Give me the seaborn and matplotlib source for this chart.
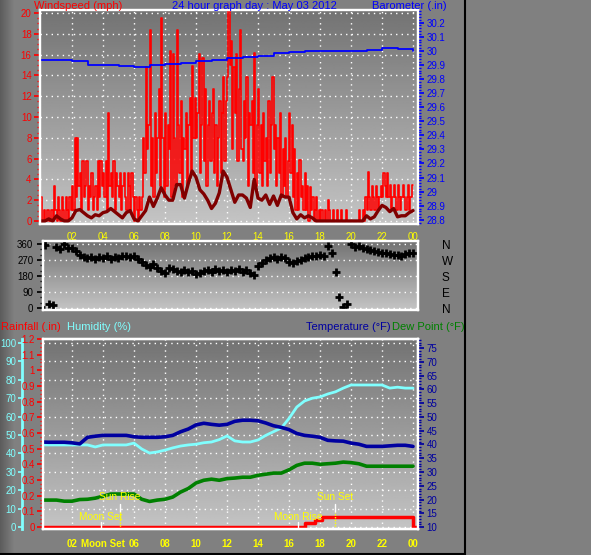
import numpy as np
import pandas as pd
import matplotlib
matplotlib.use("Agg")
import matplotlib.pyplot as plt
import matplotlib.transforms as mtransforms
from matplotlib.lines import Line2D
from matplotlib.ticker import MultipleLocator, FuncFormatter
import seaborn as sns

# wind gust (mph), a reading every 5 minutes from 00:00
gust_mph = [
    2.3, 0.0, 1.1, 0.0, 0.0, 1.1, 0.0, 0.0, 1.1, 0.0, 3.4, 1.1,
    0.0, 2.3, 1.1, 0.0, 2.3, 1.1, 0.0, 2.3, 1.1, 0.0, 2.3, 1.1,
    3.4, 1.1, 8.0, 2.3, 8.0, 3.4, 4.6, 1.1, 5.8, 2.3, 3.4, 5.8,
    1.1, 3.4, 2.3, 4.6, 1.1, 2.3, 3.4, 1.1, 5.8, 2.3, 5.8, 3.4,
    4.6, 2.3, 5.8, 1.1, 10.4, 3.4, 4.6, 2.3, 5.8, 1.1, 4.6, 3.4,
    2.3, 4.6, 1.1, 3.4, 4.6, 2.3, 1.1, 4.6, 3.4, 1.1, 4.6, 2.3,
    0.0, 2.3, 1.1, 0.0, 2.3, 1.1, 2.3, 8.0, 4.6, 14.8, 6.9, 9.2,
    18.4, 3.4, 8.0, 2.3, 10.4, 4.6, 8.0, 12.7, 3.4, 19.5, 8.0, 2.3,
    10.4, 3.4, 9.2, 6.9, 16.3, 2.3, 16.1, 8.0, 3.4, 18.4, 9.2, 4.6,
    11.5, 2.3, 8.0, 6.9, 10.4, 3.4, 9.2, 11.8, 4.6, 14.9, 8.0, 11.8,
    8.0, 10.4, 16.1, 4.6, 9.2, 15.7, 5.8, 12.7, 3.4, 9.2, 11.5, 5.8,
    10.4, 12.7, 4.6, 9.2, 3.4, 8.0, 11.5, 4.6, 10.4, 13.8, 5.8, 11.5,
    13.8, 20.3, 15.0, 17.3, 6.9, 14.8, 10.4, 16.1, 5.8, 12.7, 18.4, 6.9,
    5.8, 11.5, 8.0, 13.8, 3.4, 10.4, 9.2, 11.5, 4.6, 16.2, 3.4, 9.2,
    12.7, 4.6, 9.2, 3.4, 10.4, 5.8, 8.0, 3.4, 11.5, 4.6, 9.2, 13.8,
    6.9, 9.2, 3.4, 8.0, 4.6, 10.4, 2.3, 6.9, 3.4, 8.0, 2.3, 5.8,
    10.4, 4.6, 9.2, 2.3, 6.9, 1.1, 4.6, 1.1, 5.9, 2.3, 3.4, 1.1,
    4.6, 1.1, 3.4, 0.0, 3.3, 1.1, 2.3, 0.0, 1.1, 2.3, 0.0, 1.1,
    0.0, 1.1, 0.0, 0.0, 1.1, 0.0, 2.0, 1.1, 0.0, 0.0, 1.1, 0.0,
    0.0, 1.1, 0.0, 0.0, 1.1, 0.0, 0.0, 0.0, 1.1, 0.0, 0.0, 0.0,
    0.0, 0.0, 0.0, 0.0, 0.0, 0.0, 1.1, 0.0, 0.0, 1.1, 0.0, 2.3,
    1.1, 4.7, 2.3, 1.1, 3.4, 2.3, 1.1, 3.4, 2.3, 1.1, 2.3, 3.4,
    2.3, 4.6, 3.4, 2.3, 4.6, 2.3, 3.5, 1.1, 2.3, 3.5, 2.3, 1.1,
    3.5, 2.3, 1.1, 2.3, 3.5, 2.3, 1.1, 2.3, 3.5, 1.1, 2.3, 3.5,
    3.5,
]
# average wind speed (mph), every 15 minutes
avg_mph = [
    0.0, 0.0, 0.2, 0.0, 0.5, 0.2, 0.0, 0.0, 0.3, 1.0, 1.1, 0.8,
    0.5, 0.3, 0.6, 0.5, 0.8, 0.9, 1.2, 0.9, 0.6, 0.3, 0.8, 1.0,
    0.2, 0.0, 0.5, 1.0, 2.3, 1.4, 2.2, 3.2, 2.5, 2.0, 2.0, 3.5,
    3.5, 2.2, 3.6, 4.8, 4.2, 3.0, 2.6, 2.0, 1.2, 1.7, 2.7, 4.8,
    4.2, 3.0, 1.8, 2.5, 2.5, 2.2, 1.3, 4.0, 2.2, 2.0, 2.5, 1.6,
    2.4, 1.5, 2.5, 2.3, 2.3, 0.8, 0.2, 0.6, 0.3, 0.5, 0.3, 0.0,
    0.0, 0.0, 0.0, 0.0, 0.0, 0.0, 0.0, 0.0, 0.0, 0.0, 0.0, 0.0,
    0.5, 0.2, 0.4, 1.0, 1.5, 1.3, 0.9, 1.2, 0.4, 0.5, 0.5, 0.8,
    1.0,
]
# barometer (in), hourly
baro_in = [29.935, 29.935, 29.925, 29.90, 29.90, 29.893, 29.885, 29.897,
           29.905, 29.915, 29.93, 29.936, 29.95, 29.955, 29.965, 29.985,
           29.99, 30.0, 30.0, 30.0, 30.0, 30.005, 30.02, 30.01, 30.0]
# wind direction (degrees), every 15 minutes
wind_dir = [
    8, 355, 25, 15, 345, 330, 360, 340, 335, 320, 300, 285,
    280, 285, 275, 285, 280, 290, 275, 285, 280, 290, 295, 285,
    295, 275, 260, 240, 230, 245, 225, 210, 195, 225, 220, 210,
    205, 215, 200, 210, 190, 195, 210, 215, 200, 220, 210, 215,
    205, 215, 210, 220, 200, 215, 195, 185, 235, 255, 270, 280,
    285, 275, 285, 280, 260, 255, 265, 270, 280, 285, 290, 295,
    300, 290, 350, 310, 200, 60, 5, 25, 358, 345, 350, 340,
    330, 325, 320, 315, 310, 308, 305, 300, 300, 295, 305, 310,
    308,
]
# temperature, dew point (F) and humidity (%), every 30 minutes
temp_f = [40.9, 40.8, 40.8, 40.8, 40.6, 40.2, 42.6, 43.0, 43.3, 43.3,
          43.3, 43.3, 42.8, 42.6, 42.6, 42.6, 42.8, 43.3, 44.6, 45.6,
          47.1, 47.7, 47.3, 47.0, 47.3, 48.4, 48.8, 48.8, 48.6, 47.8,
          46.8, 46.2, 45.4, 44.0, 43.3, 43.0, 42.6, 41.5, 41.3, 41.2,
          40.5, 40.1, 39.3, 39.3, 39.3, 39.5, 39.7, 39.7, 39.3]
dew_f = [19.8, 19.8, 19.8, 19.4, 19.4, 20.0, 20.1, 20.5, 21.2, 22.0,
         22.0, 22.0, 22.0, 20.1, 19.3, 19.8, 20.1, 20.9, 22.7, 24.0,
         26.0, 27.0, 27.4, 27.0, 27.6, 27.8, 28.1, 28.1, 28.8, 29.2,
         29.6, 29.6, 30.8, 32.4, 33.2, 33.2, 32.8, 33.0, 33.2, 33.6,
         33.4, 33.0, 32.1, 32.1, 32.1, 32.1, 32.1, 32.1, 32.1]
humidity = [44.6, 44.6, 44.6, 44.6, 44.6, 44.6, 44.6, 43.5, 44.6, 44.6,
            44.6, 44.6, 45.6, 42.4, 40.2, 40.8, 41.8, 43.0, 44.0, 44.6,
            45.0, 45.8, 46.2, 47.5, 49.5, 46.8, 46.2, 46.2, 47.3, 49.8,
            51.8, 53.8, 59.0, 65.2, 68.5, 70.0, 70.7, 72.3, 73.5, 75.5,
            77.2, 77.2, 77.2, 77.2, 77.2, 75.5, 76.0, 75.5, 75.5]
# daily rain (in): hour it changed and the new total
rain_hours = [0.0, 17.0, 17.7, 18.1, 24.0, 24.3]
rain_in = [0.0, 0.025, 0.045, 0.065, 0.0, 0.0]
# sun and moon events (hour of day)
event_names = ['Sun Rise', 'Sun Set', 'Moon Set', 'Moon Rise']
event_hours = [5.1, 18.97, 3.87, 16.58]

hour_ticks = list(range(2, 25, 2))
top_labels = ['02', '04', '06', '08', '10', '12', '14', '16', '18', '20', '22', '00']
bottom_labels = ['02', 'Moon Set', '06', '08', '10', '12', '14', '16', '18', '20', '22', '00']
compass_deg = [360, 270, 180, 90, 0]
compass = ['N', 'W', 'S', 'E', 'N']

sns.set_theme(style="ticks")
plt.rcParams['font.family'] = ['Liberation Sans', 'DejaVu Sans']

W, H = 591, 555
RED, DARKRED, BLUE = '#ff0000', '#800000', '#0000ff'
NAVY, CYAN, GREEN, YEL = '#0000a0', '#80ffff', '#008000', '#ffff00'
DOTS = (0, (1, 3))

fig = plt.figure(figsize=(W / 100, H / 100), dpi=100)
fig.patch.set_facecolor('#808080')

# dark shading on the left edge of the window
edge = fig.add_axes([0, 0, 14 / W, 1])
edge.imshow(np.linspace(0.36, 0.5, 50)[None, :], cmap='gray', vmin=0, vmax=1,
            aspect='auto')
edge.axis('off')


def place(x0, y0, x1, y1):
    return fig.add_axes([x0 / W, 1 - y1 / H, (x1 - x0) / W, (y1 - y0) / H])


def shade(ax):
    g = np.linspace(0.45, 0.77, 200)[:, None]
    ax.imshow(g, cmap='gray', vmin=0, vmax=1, aspect='auto', extent=(0, 1, 0, 1),
              transform=ax.transAxes, zorder=0)


def frame(ax):
    for s in ax.spines.values():
        s.set_color('white')
        s.set_linewidth(1.6)
    ax.set(xlabel='', ylabel='')


def one_dp(v, pos):
    return f"{round(v, 2):g}"


# ---------------- wind speed / barometer ----------------
ax1 = place(40, 10, 418, 224)
shade(ax1)
t5 = np.arange(len(gust_mph)) / 12
t15 = np.arange(len(avg_mph)) / 4
sns.lineplot(x=t5, y=gust_mph, ax=ax1, color=RED, lw=1.2, drawstyle='steps-post',
             errorbar=None, legend=False)
sns.lineplot(x=t15, y=avg_mph, ax=ax1, color=DARKRED, lw=2.4, errorbar=None, legend=False)
ax1.set_xlim(-0.065, 24.32)
ax1.set_ylim(-0.29, 20.29)
ax1.set_yticks(range(0, 21, 2))
ax1.yaxis.set_minor_locator(MultipleLocator(0.5))
ax1.tick_params(axis='y', which='both', colors=RED, labelsize=7, length=4, pad=2)
ax1.tick_params(axis='y', which='minor', length=2)
ax1.set_xticks(hour_ticks)
ax1.set_xticklabels(top_labels)
ax1.tick_params(axis='x', length=0, labelcolor=YEL, labelsize=7, pad=6)
ax1.grid(True, color='white', linestyle=DOTS, linewidth=1)
ax1.set_axisbelow(True)
frame(ax1)

ax1b = ax1.twinx()
sns.lineplot(x=np.arange(len(baro_in)), y=baro_in, ax=ax1b, color=BLUE, lw=1.3,
             drawstyle='steps-post', errorbar=None, legend=False)
ax1b.set_ylim(28.77, 30.29)
ax1b.set_yticks(np.round(np.arange(28.8, 30.21, 0.1), 1))
ax1b.yaxis.set_major_formatter(FuncFormatter(one_dp))
ax1b.yaxis.set_minor_locator(MultipleLocator(0.02))
ax1b.tick_params(axis='y', which='both', colors=BLUE, labelsize=7, length=4, pad=2)
ax1b.tick_params(axis='y', which='minor', length=2)
frame(ax1b)

# ---------------- wind direction ----------------
ax2 = place(43, 241, 418, 310)
shade(ax2)
sns.scatterplot(x=t15, y=wind_dir, ax=ax2, marker='+', s=30, color='black',
                linewidth=2.0, legend=False, zorder=3)
ax2.set_xlim(0.13, 24.32)
ax2.set_ylim(-11, 377)
ax2.set_yticks([0, 90, 180, 270, 360])
ax2.yaxis.set_minor_locator(MultipleLocator(30))
ax2.tick_params(axis='y', which='both', colors='black', labelsize=7, length=4, pad=3)
ax2.tick_params(axis='y', which='minor', length=2)
ax2.set_xticks([])
ax2.grid(True, axis='y', color='white', linestyle=DOTS, linewidth=1)
ax2.set_axisbelow(True)
frame(ax2)

ax2r = ax2.twinx()
ax2r.set_ylim(-11, 377)
ax2r.set_yticks(compass_deg)
ax2r.set_yticklabels(compass)
ax2r.tick_params(axis='y', length=0, pad=17, labelsize=8.5, labelcolor='black')
frame(ax2r)

# ---------------- rain / humidity / temperature ----------------
ax3 = place(43, 339, 418, 529)
shade(ax3)
t30 = np.arange(len(temp_f)) / 2
sns.lineplot(x=t30, y=humidity, ax=ax3, color=CYAN, lw=2, errorbar=None, legend=False)
ax3.set_xlim(0.13, 24.32)
ax3.set_ylim(-1.1, 102.2)
ax3.set_yticks(range(0, 101, 10))
ax3.tick_params(axis='y', colors=CYAN, labelsize=7, length=3, pad=1)
ax3.set_xticks(hour_ticks)
ax3.set_xticklabels(bottom_labels, fontweight='bold')
ax3.tick_params(axis='x', length=0, labelcolor=YEL, labelsize=7, pad=7)
ax3.grid(True, color='white', linestyle=DOTS, linewidth=1)
ax3.set_axisbelow(True)
frame(ax3)
ax3.spines['left'].set_position(('axes', (22 - 43) / 375))
ax3.spines['left'].set_color(CYAN)
ax3.spines['left'].set_linewidth(2)

ax3r = ax3.twinx()
sns.lineplot(x=rain_hours, y=rain_in, ax=ax3r, color=RED, lw=2.5, drawstyle='steps-post',
             errorbar=None, legend=False)
ax3r.set_ylim(-0.013, 1.2)
ax3r.yaxis.tick_left()
ax3r.set_yticks(np.round(np.arange(0, 1.21, 0.1), 1))
ax3r.yaxis.set_major_formatter(FuncFormatter(one_dp))
ax3r.yaxis.set_minor_locator(MultipleLocator(0.025))
ax3r.tick_params(axis='y', which='both', colors=RED, labelsize=7, length=4, pad=2)
ax3r.tick_params(axis='y', which='minor', length=2)
frame(ax3r)

ax3t = ax3.twinx()
sns.lineplot(x=t30, y=temp_f, ax=ax3t, color=NAVY, lw=2.6, errorbar=None, legend=False)
sns.lineplot(x=t30, y=dew_f, ax=ax3t, color=GREEN, lw=2.6, errorbar=None, legend=False)
ax3t.set_ylim(9.3, 78.3)
ax3t.set_yticks(range(10, 76, 5))
ax3t.yaxis.set_minor_locator(MultipleLocator(1))
ax3t.tick_params(axis='y', which='both', colors=NAVY, labelsize=7, length=4, pad=2)
ax3t.tick_params(axis='y', which='minor', length=2)
frame(ax3t)

# sun and moon markers along the bottom
trans = mtransforms.blended_transform_factory(ax3t.transData, ax3t.transAxes)
for name, hr in zip(event_names, event_hours):
    if name.startswith('Sun'):
        ax3t.plot([hr, hr], [0.089, 0.132], color='white', lw=1, transform=trans)
        ax3t.plot([hr, hr], [0.0, 0.089], color=YEL, lw=1, ls=(0, (1, 1)), transform=trans)
        ax3t.text(hr, 0.168, name, color=YEL, fontsize=7.3, ha='center', va='center',
                  transform=trans)
    else:
        ax3t.plot([hr, hr], [0.0, 0.037], color='white', lw=1, transform=trans)
        ax3t.text(hr, 0.063, name, color=YEL, fontsize=7.3, ha='center', va='center',
                  transform=trans)

# ---------------- captions ----------------
def caption(x, y, s, color, ha='left'):
    fig.text(x / W, 1 - y / H, s, color=color, fontsize=8, ha=ha, va='center')


caption(34, 6, 'Windspeed (mph)', RED)
caption(172, 6, '24 hour graph day : May 03 2012', BLUE)
caption(372, 6, 'Barometer (.in)', BLUE)
caption(1, 327, 'Rainfall (.in)', RED)
caption(67, 327, 'Humidity (%)', CYAN)
caption(391, 327, 'Temperature (°F)', NAVY, ha='right')
caption(392, 327, 'Dew Point (°F)', GREEN)

fig.add_artist(Line2D([465 / W, 465 / W], [0, 1], color='black', lw=1.5,
                      transform=fig.transFigure))
fig.add_artist(Line2D([0, 465 / W], [1.2 / H, 1.2 / H], color='black', lw=1.5,
                      transform=fig.transFigure))

fig.savefig('out.png', dpi=100, facecolor=fig.get_facecolor())
